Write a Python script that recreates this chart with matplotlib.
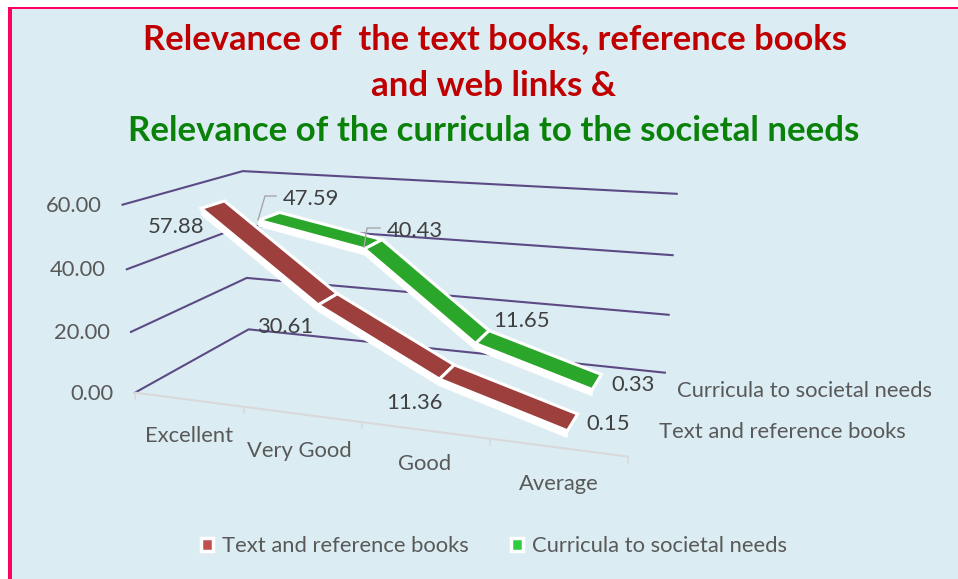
import numpy as np
import matplotlib.pyplot as plt
from matplotlib.patches import Patch, Polygon, Rectangle

plt.rcParams['font.family'] = ['Lato', 'DejaVu Sans']

categories = ["Excellent", "Very Good", "Good", "Average"]
text_books = [57.88, 30.61, 11.36, 0.15]
curricula = [47.59, 40.43, 11.65, 0.33]
value_ticks = [0, 20, 40, 60]

RED, GREEN = "#9C3F3D", "#2AA62A"
BG = "#DBEDF3"
GRID = "#5C4A85"
GREY = "#595959"
DARK = "#404040"
FS = 15.8

# camera for the 3-D box: (category pos, depth, value) -> pixel position on the page
calib = [
    (0, 0, 0, 135, 392), (1, 0, 0, 245, 407), (2, 0, 0, 362, 422), (3, 0, 0, 490, 439), (4, 0, 0, 628, 457),
    (0, 1, 0, 248, 330), (4, 1, 0, 665, 372),
    (0, 0, 20, 131, 332), (0, 0, 40, 127, 269), (0, 0, 60, 122, 205),
    (0, 1, 20, 247, 278), (0, 1, 40, 245, 225), (0, 1, 60, 243, 171),
    (4, 1, 20, 669, 315), (4, 1, 40, 672, 255), (4, 1, 60, 677, 194),
]
rows = []
for u, d, v, x, y in calib:
    p = [u, d, v / 60, 1]
    rows.append(p + [0, 0, 0, 0] + [-x / 1000 * c for c in p])
    rows.append([0, 0, 0, 0] + p + [-y / 1000 * c for c in p])
cam = np.linalg.svd(np.array(rows))[2][-1].reshape(3, 4)


def proj(u, d, v):
    h = cam @ np.array([u, d, v / 60, 1])
    return h[0] / h[2] * 1000, h[1] / h[2] * 1000


fig = plt.figure(figsize=(9.58, 5.79), dpi=100, facecolor="white")
ax = fig.add_axes([0, 0, 1, 1])
ax.set(xlim=[0, 958], ylim=[579, 0])
ax.axis("off")

# page background and pink frame
ax.add_patch(Rectangle((8, 6.5), 960, 580, fc="#FF0066", ec="none", zorder=0))
ax.add_patch(Rectangle((12, 8.5), 960, 580, fc=BG, ec="none", zorder=0))

ax.text(495, 39, "Relevance of  the text books, reference books", color="#C00000", fontsize=24.85,
        fontweight="bold", ha="center", va="center")
ax.text(493.5, 86, "and web links &", color="#C00000", fontsize=25.1, fontweight="bold", ha="center", va="center")
ax.text(493.5, 131, "Relevance of the curricula to the societal needs", color="#0A820A", fontsize=25.1,
        fontweight="bold", ha="center", va="center")

# walls
for v in value_ticks:
    pts = [proj(0, 0, v), proj(0, 1, v), proj(4, 1, v)]
    ax.plot(*zip(*pts), c=GRID, lw=1.5, zorder=1)
    x, y = pts[0]
    ax.text(x - 21, y + 1, f"{v:.2f}", color=GREY, fontsize=FS, ha="right", va="center")

# floor axis
ax.plot(*zip(proj(0, 0, 0), proj(4, 0, 0)), c="#D9D9D9", lw=1.5, zorder=1)
for i in range(5):
    x, y = proj(i, 0, 0)
    ax.plot([x, x], [y, y + 6], c="#D9D9D9", lw=1.2, zorder=1)
cat_off = [(0, 36), (-3, 37), (0, 34), (1, 37)]
for i, c in enumerate(categories):
    x, y = proj(i + .5, 0, 0)
    ax.text(x + cat_off[i][0], y + cat_off[i][1], c, color=GREY, fontsize=FS, ha="center", va="center")


def ribbon(vals, d0, d1, col, z):
    for i in range(len(vals) - 1):
        a, b = i + .5, i + 1.5
        top = [proj(a, d0, vals[i]), proj(b, d0, vals[i + 1]), proj(b, d1, vals[i + 1]), proj(a, d1, vals[i])]
        side = [proj(a, d0, vals[i]), proj(b, d0, vals[i + 1]), proj(b, d0, vals[i + 1] - 2), proj(a, d0, vals[i] - 2)]
        ax.add_patch(Polygon(side, fc="white", ec="white", lw=1, zorder=z))
        ax.add_patch(Polygon(top, fc=col, ec="white", lw=2.2, joinstyle="miter", zorder=z))


ribbon(curricula, .66, .87, GREEN, 2)
ribbon(text_books, .17, .36, RED, 3)

# data labels, offsets in pixels from the point they belong to
text_off = [(-35, 22), (-41, 27), (-31, 30), (36, 0)]
curr_off = [(43, -18), (43, -14), (40, -17), (37, 2)]
for vals, d, offs in [(text_books, .25, text_off), (curricula, .75, curr_off)]:
    for i, (v, o) in enumerate(zip(vals, offs)):
        x, y = proj(i + .5, d, v)
        ax.text(x + o[0], y + o[1], f"{v:.2f}", color=DARK, fontsize=FS, ha="center", va="center", zorder=5)

# leader lines of the two labels that sit away from their points
ax.plot([258, 265, 276], [220, 196, 196], c="#A6A6A6", lw=1, zorder=5)
ax.plot([364, 367, 380], [247, 228, 228], c="#A6A6A6", lw=1, zorder=5)

# series names on the depth axis
ax.text(677, 391, "Curricula to societal needs", color=GREY, fontsize=FS, va="center")
ax.text(659, 432, "Text and reference books", color=GREY, fontsize=FS, va="center")

handles = [Patch(fc="#C0504D", ec="white", lw=2.5), Patch(fc="#2ECC40", ec="white", lw=2.5)]
ax.legend(handles, ["Text and reference books", "Curricula to societal needs"], ncols=2, frameon=False,
          loc="center", bbox_to_anchor=(494, 546), bbox_transform=ax.transData, fontsize=FS, labelcolor=GREY,
          handlelength=.55, handleheight=.55, handletextpad=.4, columnspacing=1.9)

fig.savefig("out.png", dpi=100)
